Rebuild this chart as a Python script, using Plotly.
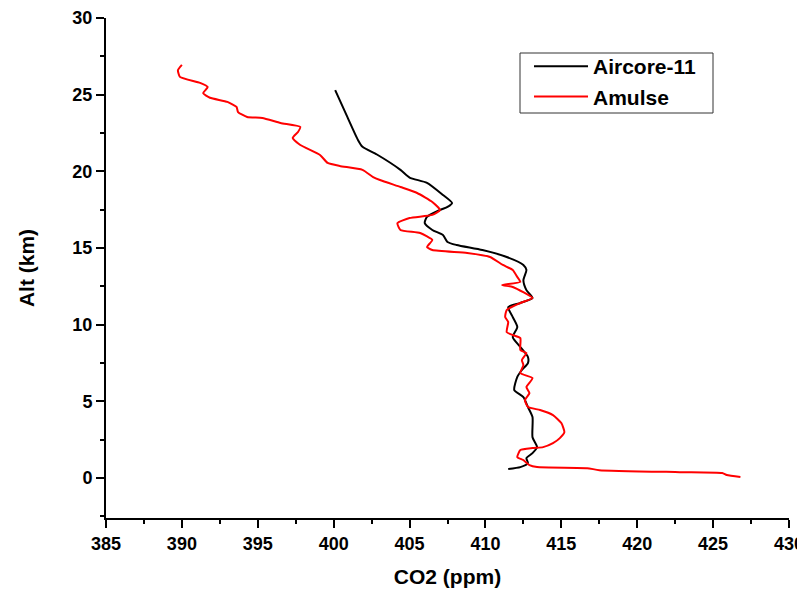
import plotly.graph_objects as go

# Aircore-11 profile
aircore_co2 = [400.1, 400.9, 401.6, 401.9, 402.85, 404.4, 405.0, 406.15, 407.2, 407.8, 407.5, 407.0,
               406.15, 406.0, 406.5, 407.2, 407.5, 408.1, 409.8, 411.4, 412.5, 412.7, 412.5, 412.7,
               413.1, 412.3, 411.5, 411.8, 412.1, 411.8, 412.3, 412.8, 412.8, 412.4, 412.1, 411.9,
               412.5, 412.8, 413.1, 413.1, 413.4, 413.1, 412.7, 412.8, 412.3, 411.5]
aircore_alt = [25.3, 23.55, 22.05, 21.6, 21.1, 20.1, 19.6, 19.25, 18.46, 17.94, 17.68, 17.48,
               17.03, 16.63, 16.18, 15.85, 15.4, 15.2, 14.87, 14.42, 13.9, 13.57, 12.9, 12.26,
               11.74, 11.42, 11.15, 10.5, 9.85, 9.2, 8.55, 7.9, 7.5, 7.05, 6.6, 5.74,
               5.28, 4.63, 3.98, 2.67, 2.02, 1.63, 1.3, 0.98, 0.72, 0.59]

# Amulse profile
amulse_co2 = [390.0, 389.74, 389.87, 391.2, 391.7, 391.4, 391.85, 393.0, 393.6, 393.7, 394.3, 395.3,
              396.5, 397.8, 397.65, 397.3, 397.8, 399.1, 399.6, 400.4, 401.9, 402.6, 403.05, 404.4,
              405.5, 406.5, 407.0, 406.5, 405.0, 404.2, 404.4, 405.7, 406.5, 406.15, 406.5, 408.8,
              410.3, 411.15, 411.8, 412.1, 412.3, 411.1, 411.8, 413.1, 412.3, 411.4, 411.3, 411.5,
              411.4, 411.8, 412.3, 412.3, 412.7, 412.4, 412.5, 412.3, 413.1, 412.7, 412.9, 412.6,
              412.8, 413.6, 414.45, 415.0, 415.2, 414.9, 414.45, 413.8, 413.1, 412.3, 412.1, 412.5,
              412.9, 413.4, 416.7, 417.5, 422.8, 425.6, 425.9, 426.8]
amulse_alt = [26.94, 26.6, 26.16, 25.77, 25.5, 25.1, 24.8, 24.53, 24.2, 23.87, 23.55, 23.48,
              23.16, 22.9, 22.57, 22.18, 21.72, 21.07, 20.55, 20.35, 20.1, 19.63, 19.44, 18.98,
              18.59, 18.0, 17.48, 17.16, 16.96, 16.63, 16.18, 15.98, 15.53, 15.07, 14.87, 14.68,
              14.42, 13.9, 13.57, 13.11, 12.79, 12.59, 12.46, 11.74, 11.42, 10.96, 10.5, 10.18,
              9.52, 9.33, 9.13, 8.35, 8.15, 7.7, 7.37, 6.85, 6.52, 5.94, 5.54, 5.09,
              4.63, 4.44, 4.11, 3.59, 3.0, 2.61, 2.28, 2.02, 1.96, 1.83, 1.37, 1.17,
              0.85, 0.72, 0.65, 0.52, 0.39, 0.33, 0.2, 0.07]

x_ticks = [385, 390, 395, 400, 405, 410, 415, 420, 425, 430]
y_ticks = [0, 5, 10, 15, 20, 25, 30]

FONT = "Liberation Sans, Arial, sans-serif"

fig = go.Figure()
fig.add_trace(go.Scatter(x=aircore_co2, y=aircore_alt, mode="lines", name="Aircore-11",
                         line=dict(color="black", width=2, shape="spline", smoothing=0.6)))
fig.add_trace(go.Scatter(x=amulse_co2, y=amulse_alt, mode="lines", name="Amulse",
                         line=dict(color="#ff0000", width=2, shape="spline", smoothing=0.5)))

# page has an 8px body margin; plot area in page pixels: x 106..789, y 18..518
OFF = 8
fig.add_shape(type="rect", xref="paper", yref="paper",
              x0=(520 - 106) / 683, x1=(713 - 106) / 683,
              y0=(518 - 113) / 500, y1=(518 - 53) / 500,
              line=dict(color="#333333", width=1), fillcolor="rgba(0,0,0,0)", layer="above")

fig.update_layout(
    width=805 - OFF, height=596 - 2 * OFF,
    margin=dict(l=106 - OFF, r=16, t=18 - OFF, b=78 - OFF, autoexpand=False),
    plot_bgcolor="white", paper_bgcolor="white",
    hovermode=False,
    font=dict(family=FONT, color="black"),
    legend=dict(x=(529 - 106) / 683, y=(518 - 46) / 500, xanchor="left", yanchor="top",
                borderwidth=0, bgcolor="rgba(0,0,0,0)",
                font=dict(family=FONT, size=21, weight="bold", color="black"),
                tracegroupgap=0, itemwidth=54),
    xaxis=dict(range=[385, 430], tickvals=x_ticks, ticktext=[str(v) for v in x_ticks],
               automargin=False,
               showgrid=False, zeroline=False, showline=True, linecolor="black", linewidth=2,
               ticks="outside", ticklen=8, tickwidth=2, tickcolor="black",
               minor=dict(dtick=2.5, tick0=385, ticks="outside", ticklen=4, tickwidth=1.5, tickcolor="black"),
               tickfont=dict(family=FONT, size=18, weight="bold"),
               title=dict(text="CO2 (ppm)", font=dict(family=FONT, size=21, weight="bold"), standoff=20)),
    yaxis=dict(range=[-2.6, 30], tickvals=y_ticks, ticktext=[str(v) for v in y_ticks],
               automargin=False,
               showgrid=False, zeroline=False, showline=True, linecolor="black", linewidth=2,
               ticks="outside", ticklen=8, tickwidth=2, tickcolor="black",
               minor=dict(dtick=2.5, tick0=0, ticks="outside", ticklen=4, tickwidth=1.5, tickcolor="black"),
               tickfont=dict(family=FONT, size=18, weight="bold"),
               title=dict(text="Alt (km)", font=dict(family=FONT, size=21, weight="bold"), standoff=32)),
)

fig.write_html("out.html")
